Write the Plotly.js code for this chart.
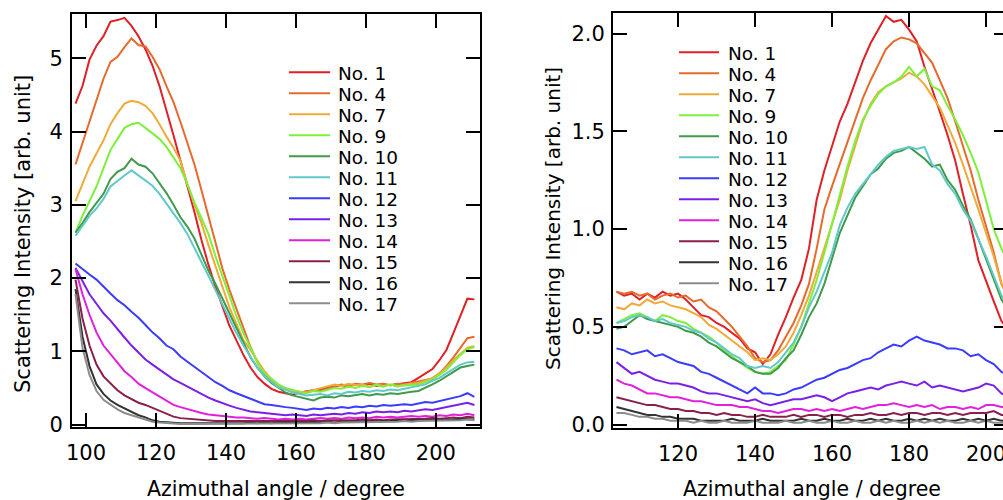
<!DOCTYPE html>
<html><head><meta charset="utf-8">
<script src="https://cdn.plot.ly/plotly-3.0.1.min.js"></script>
<style>html,body{margin:0;padding:0;overflow:hidden;background:#fff}#chart{width:1012px;height:500px}</style>
</head><body><div id="chart"></div>
<script>
// ---------- data ----------
const sampleNames = ["No. 1","No. 4","No. 7","No. 9","No. 10","No. 11","No. 12","No. 13","No. 14","No. 15","No. 16","No. 17"];
const sampleColors = ["#df2026","#e66a2c","#f0aa3a","#7ef03c","#3f9a4c","#62c8c8","#3b3bff","#7a20e6","#e21fdc","#8b1f4c","#333333","#8c8c8c"];

const angleLeft = [97,99,101,103,105,107,109,111,113,115,117,119,121,123,125,127,129,131,133,135,137,139,141,143,145,147,149,151,153,155,157,159,161,163,165,167,169,171,173,175,177,179,181,183,185,187,189,191,193,195,197,199,201,203,205,207,209,211];
const angleRight = [104,106,108,110,112,114,116,118,120,122,124,126,128,130,132,134,136,138,140,142,144,146,148,150,152,154,156,158,160,162,164,166,168,170,172,174,176,178,180,182,184,186,188,190,192,194,196,198,200,202,204,206];

const leftNo1 = [4.38,4.62,4.98,5.17,5.3,5.5,5.52,5.55,5.44,5.3,5.12,4.9,4.62,4.3,3.95,3.6,3.26,2.9,2.52,2.18,1.88,1.62,1.35,1.15,0.95,0.78,0.65,0.56,0.49,0.45,0.43,0.41,0.44,0.46,0.47,0.48,0.5,0.53,0.54,0.52,0.55,0.54,0.56,0.53,0.55,0.54,0.55,0.56,0.58,0.64,0.7,0.76,0.88,1.02,1.25,1.48,1.72,1.71];
const leftNo4 = [3.55,3.85,4.15,4.45,4.72,4.95,5.02,5.15,5.27,5.18,5.16,5.02,4.85,4.62,4.4,4.13,3.85,3.55,3.2,2.85,2.48,2.13,1.84,1.58,1.32,1.06,0.85,0.7,0.59,0.52,0.49,0.45,0.43,0.45,0.47,0.46,0.49,0.52,0.55,0.53,0.56,0.55,0.57,0.55,0.56,0.54,0.56,0.55,0.57,0.58,0.6,0.63,0.7,0.8,0.92,1.05,1.18,1.2];
const leftNo7 = [3.05,3.28,3.52,3.7,3.88,4.1,4.25,4.38,4.42,4.4,4.35,4.25,4.1,3.93,3.78,3.6,3.28,3.0,2.75,2.45,2.15,1.88,1.6,1.37,1.15,1.02,0.88,0.73,0.62,0.53,0.49,0.46,0.45,0.44,0.47,0.5,0.52,0.55,0.53,0.56,0.54,0.55,0.52,0.55,0.53,0.55,0.52,0.55,0.56,0.57,0.6,0.64,0.7,0.78,0.88,0.97,1.05,1.07];
const leftNo9 = [2.62,2.85,3.05,3.25,3.5,3.75,3.9,4.05,4.1,4.12,4.05,3.98,3.9,3.79,3.65,3.5,3.28,3.03,2.82,2.6,2.3,2.02,1.75,1.48,1.25,1.05,0.85,0.7,0.62,0.55,0.5,0.47,0.45,0.43,0.46,0.45,0.48,0.5,0.49,0.52,0.5,0.53,0.51,0.54,0.52,0.55,0.53,0.54,0.55,0.55,0.58,0.62,0.68,0.75,0.85,0.95,1.03,1.06];
const leftNo10 = [2.62,2.75,2.9,3.02,3.15,3.35,3.45,3.5,3.63,3.55,3.52,3.43,3.3,3.16,3.0,2.83,2.7,2.54,2.32,2.1,1.92,1.72,1.5,1.3,1.1,0.92,0.78,0.66,0.57,0.5,0.44,0.4,0.38,0.36,0.33,0.37,0.38,0.37,0.4,0.39,0.41,0.42,0.4,0.42,0.41,0.43,0.42,0.44,0.45,0.46,0.5,0.55,0.6,0.66,0.72,0.78,0.8,0.82];
const leftNo11 = [2.58,2.72,2.85,2.95,3.08,3.25,3.33,3.4,3.47,3.4,3.33,3.26,3.15,3.02,2.88,2.75,2.6,2.4,2.22,2.03,1.83,1.63,1.43,1.25,1.08,0.92,0.78,0.66,0.58,0.51,0.48,0.44,0.42,0.4,0.41,0.42,0.4,0.43,0.42,0.45,0.44,0.46,0.45,0.47,0.46,0.48,0.47,0.49,0.5,0.52,0.55,0.6,0.64,0.7,0.76,0.82,0.85,0.86];
const leftNo12 = [2.2,2.12,2.05,1.98,1.88,1.79,1.7,1.63,1.54,1.46,1.36,1.26,1.18,1.08,1.03,0.93,0.86,0.79,0.71,0.64,0.58,0.53,0.47,0.43,0.39,0.35,0.31,0.28,0.27,0.25,0.24,0.23,0.22,0.2,0.22,0.21,0.23,0.22,0.24,0.23,0.25,0.24,0.26,0.25,0.27,0.26,0.27,0.28,0.27,0.29,0.31,0.3,0.32,0.34,0.36,0.39,0.43,0.38];
const leftNo13 = [2.14,1.95,1.78,1.65,1.52,1.42,1.3,1.19,1.08,0.98,0.89,0.82,0.75,0.68,0.62,0.57,0.52,0.46,0.41,0.37,0.33,0.29,0.26,0.23,0.2,0.18,0.17,0.16,0.15,0.14,0.13,0.14,0.13,0.12,0.14,0.13,0.14,0.15,0.14,0.16,0.15,0.17,0.16,0.18,0.17,0.18,0.17,0.19,0.18,0.2,0.21,0.2,0.22,0.23,0.25,0.28,0.3,0.27];
const leftNo14 = [2.12,1.78,1.5,1.26,1.08,0.96,0.84,0.73,0.65,0.56,0.5,0.44,0.38,0.32,0.27,0.24,0.21,0.18,0.16,0.14,0.13,0.12,0.11,0.1,0.1,0.09,0.08,0.09,0.08,0.07,0.08,0.07,0.08,0.07,0.08,0.09,0.08,0.09,0.08,0.1,0.09,0.1,0.09,0.11,0.1,0.11,0.1,0.11,0.12,0.11,0.12,0.11,0.13,0.12,0.14,0.13,0.15,0.13];
const leftNo15 = [1.98,1.45,1.08,0.82,0.66,0.56,0.47,0.4,0.35,0.3,0.27,0.23,0.18,0.14,0.11,0.09,0.08,0.07,0.06,0.06,0.05,0.05,0.05,0.05,0.04,0.05,0.04,0.05,0.04,0.05,0.05,0.04,0.05,0.05,0.06,0.05,0.06,0.06,0.05,0.06,0.06,0.07,0.06,0.07,0.06,0.07,0.07,0.08,0.07,0.08,0.08,0.09,0.08,0.09,0.1,0.09,0.11,0.1];
const leftNo16 = [1.85,1.2,0.8,0.55,0.42,0.33,0.27,0.22,0.17,0.13,0.1,0.06,0.04,0.03,0.02,0.02,0.02,0.02,0.01,0.02,0.02,0.01,0.02,0.02,0.02,0.03,0.02,0.03,0.02,0.03,0.03,0.02,0.03,0.03,0.04,0.03,0.04,0.03,0.04,0.04,0.05,0.04,0.05,0.04,0.05,0.05,0.06,0.05,0.06,0.06,0.06,0.07,0.06,0.07,0.07,0.08,0.08,0.07];
const leftNo17 = [1.78,1.05,0.68,0.46,0.34,0.27,0.21,0.16,0.13,0.1,0.07,0.04,0.03,0.02,0.02,0.01,0.01,0.01,0.01,0.01,0.01,0.01,0.01,0.01,0.01,0.02,0.01,0.02,0.01,0.02,0.02,0.01,0.02,0.02,0.02,0.02,0.03,0.02,0.03,0.03,0.03,0.04,0.03,0.04,0.03,0.04,0.04,0.05,0.04,0.05,0.05,0.05,0.06,0.05,0.06,0.06,0.07,0.06];

const rightNo1 = [0.68,0.66,0.67,0.64,0.67,0.65,0.68,0.66,0.67,0.64,0.6,0.56,0.55,0.52,0.5,0.47,0.44,0.39,0.37,0.31,0.36,0.46,0.55,0.65,0.74,0.9,1.15,1.3,1.43,1.55,1.64,1.75,1.86,1.95,2.02,2.09,2.06,2.07,2.02,1.96,1.83,1.72,1.6,1.48,1.35,1.18,1.02,0.84,0.73,0.63,0.53,0.48];
const rightNo4 = [0.68,0.67,0.68,0.66,0.67,0.64,0.66,0.67,0.65,0.66,0.63,0.64,0.6,0.58,0.54,0.5,0.45,0.4,0.34,0.32,0.33,0.38,0.45,0.52,0.61,0.72,0.9,1.1,1.22,1.33,1.44,1.56,1.67,1.76,1.84,1.92,1.96,1.98,1.97,1.95,1.9,1.85,1.76,1.67,1.55,1.43,1.3,1.15,1.02,0.88,0.72,0.64];
const rightNo7 = [0.6,0.59,0.62,0.61,0.64,0.62,0.63,0.61,0.6,0.59,0.57,0.55,0.51,0.49,0.46,0.43,0.4,0.37,0.33,0.34,0.33,0.36,0.4,0.47,0.56,0.66,0.78,0.9,1.02,1.15,1.3,1.43,1.55,1.64,1.7,1.73,1.75,1.77,1.8,1.78,1.74,1.68,1.62,1.53,1.44,1.33,1.22,1.1,0.98,0.86,0.72,0.65];
const rightNo9 = [0.52,0.54,0.56,0.57,0.55,0.53,0.56,0.55,0.53,0.52,0.49,0.47,0.45,0.42,0.38,0.35,0.32,0.29,0.27,0.26,0.27,0.3,0.33,0.41,0.5,0.62,0.74,0.88,1.03,1.17,1.32,1.45,1.56,1.63,1.69,1.73,1.75,1.78,1.83,1.78,1.82,1.73,1.71,1.63,1.56,1.48,1.39,1.29,1.15,1.0,0.9,0.82];
const rightNo10 = [0.49,0.5,0.53,0.56,0.54,0.53,0.52,0.51,0.5,0.48,0.47,0.45,0.42,0.4,0.37,0.34,0.32,0.3,0.27,0.26,0.26,0.29,0.34,0.38,0.46,0.55,0.62,0.72,0.85,0.98,1.07,1.16,1.22,1.28,1.31,1.36,1.39,1.4,1.42,1.39,1.36,1.32,1.33,1.25,1.2,1.12,1.05,0.95,0.85,0.75,0.64,0.58];
const rightNo11 = [0.52,0.53,0.55,0.56,0.55,0.53,0.54,0.52,0.51,0.5,0.48,0.47,0.44,0.42,0.39,0.36,0.34,0.3,0.29,0.3,0.29,0.32,0.37,0.42,0.5,0.6,0.68,0.78,0.88,1.02,1.11,1.18,1.23,1.28,1.33,1.37,1.4,1.41,1.42,1.41,1.42,1.33,1.3,1.23,1.18,1.1,1.04,0.95,0.86,0.76,0.66,0.6];
const rightNo12 = [0.39,0.38,0.36,0.37,0.38,0.35,0.36,0.34,0.32,0.31,0.3,0.27,0.26,0.24,0.22,0.2,0.18,0.16,0.19,0.16,0.16,0.15,0.16,0.18,0.19,0.21,0.23,0.24,0.26,0.28,0.29,0.31,0.33,0.34,0.37,0.39,0.41,0.4,0.43,0.45,0.43,0.42,0.41,0.39,0.39,0.38,0.35,0.36,0.33,0.31,0.27,0.25];
const rightNo13 = [0.32,0.29,0.26,0.27,0.25,0.23,0.22,0.21,0.21,0.2,0.19,0.17,0.16,0.16,0.15,0.14,0.13,0.12,0.13,0.11,0.1,0.11,0.12,0.13,0.13,0.14,0.15,0.14,0.12,0.14,0.16,0.17,0.18,0.19,0.18,0.2,0.21,0.22,0.21,0.2,0.22,0.19,0.2,0.19,0.18,0.17,0.18,0.19,0.21,0.2,0.16,0.14];
const rightNo14 = [0.23,0.21,0.2,0.18,0.16,0.16,0.15,0.14,0.14,0.13,0.12,0.12,0.11,0.1,0.1,0.1,0.09,0.09,0.08,0.07,0.07,0.06,0.07,0.08,0.08,0.07,0.08,0.07,0.08,0.07,0.08,0.09,0.08,0.09,0.1,0.1,0.11,0.1,0.09,0.1,0.09,0.1,0.08,0.09,0.09,0.08,0.09,0.08,0.1,0.1,0.09,0.09];
const rightNo15 = [0.14,0.13,0.12,0.11,0.1,0.1,0.09,0.08,0.08,0.07,0.07,0.06,0.06,0.05,0.06,0.05,0.05,0.04,0.04,0.05,0.04,0.04,0.04,0.05,0.04,0.05,0.05,0.04,0.05,0.05,0.04,0.05,0.05,0.06,0.05,0.05,0.06,0.05,0.06,0.06,0.05,0.06,0.06,0.05,0.06,0.05,0.06,0.06,0.06,0.07,0.05,0.05];
const rightNo16 = [0.09,0.08,0.07,0.06,0.05,0.05,0.04,0.04,0.03,0.03,0.03,0.02,0.02,0.02,0.02,0.03,0.02,0.02,0.02,0.03,0.02,0.02,0.02,0.02,0.03,0.02,0.02,0.03,0.02,0.02,0.03,0.02,0.02,0.03,0.02,0.03,0.02,0.02,0.03,0.02,0.03,0.02,0.03,0.02,0.02,0.03,0.02,0.03,0.02,0.03,0.02,0.02];
const rightNo17 = [0.06,0.06,0.05,0.04,0.04,0.03,0.03,0.02,0.02,0.02,0.01,0.02,0.01,0.01,0.02,0.01,0.01,0.01,0.02,0.01,0.01,0.01,0.02,0.01,0.01,0.02,0.01,0.01,0.02,0.01,0.01,0.02,0.01,0.01,0.02,0.01,0.02,0.01,0.01,0.02,0.01,0.02,0.01,0.02,0.01,0.01,0.02,0.01,0.02,0.01,0.01,0.01];

const leftSeries = [leftNo1,leftNo4,leftNo7,leftNo9,leftNo10,leftNo11,leftNo12,leftNo13,leftNo14,leftNo15,leftNo16,leftNo17];
const rightSeries = [rightNo1,rightNo4,rightNo7,rightNo9,rightNo10,rightNo11,rightNo12,rightNo13,rightNo14,rightNo15,rightNo16,rightNo17];

const xTitle = "Azimuthal angle / degree";
const yTitle = "Scattering Intensity [arb. unit]";

// ---------- figure ----------
const W = 1012, H = 500;
const FONT = "DejaVu Sans";
const traces = [];
sampleNames.forEach((n, i) => {
  traces.push({x: angleLeft, y: leftSeries[i], xaxis: 'x', yaxis: 'y', type: 'scatter', mode: 'lines',
    name: n, showlegend: false, line: {color: sampleColors[i], width: 2}});
});
sampleNames.forEach((n, i) => {
  traces.push({x: angleRight, y: rightSeries[i], xaxis: 'x2', yaxis: 'y2', type: 'scatter', mode: 'lines',
    name: n, showlegend: false, line: {color: sampleColors[i], width: 2}});
});

function ax(extra) {
  return Object.assign({
    showline: true, linecolor: '#000', linewidth: 2, mirror: 'allticks',
    ticks: 'inside', ticklen: 14, tickwidth: 2, tickcolor: '#000',
    showgrid: false, zeroline: false, ticklabelstandoff: 6,
    tickfont: {family: FONT, size: 21, color: '#000'}
  }, extra);
}

const px = v => v / W, py = v => 1 - v / H;
const shapes = [], annotations = [];
function legendBlock(lineX0, lineX1, textX, rowY0) {
  sampleNames.forEach((n, k) => {
    const y = rowY0 + k * 21;
    shapes.push({type: 'line', xref: 'paper', yref: 'paper', x0: px(lineX0), x1: px(lineX1), y0: py(y), y1: py(y),
      line: {color: sampleColors[k], width: 2}});
    annotations.push({xref: 'paper', yref: 'paper', x: px(textX), y: py(y + 1), xanchor: 'left', yanchor: 'middle',
      showarrow: false, text: n, font: {family: FONT, size: 18.5, color: '#000'}, borderpad: 0});
  });
}
legendBlock(289, 330, 337, 72.3);
legendBlock(679, 719, 727, 52.3);

annotations.push({xref: 'paper', yref: 'paper', x: px(275.5), y: py(489), xanchor: 'center', yanchor: 'middle',
  showarrow: false, text: xTitle, font: {family: FONT, size: 20.5, color: '#000'}});
annotations.push({xref: 'paper', yref: 'paper', x: px(811.5), y: py(489), xanchor: 'center', yanchor: 'middle',
  showarrow: false, text: xTitle, font: {family: FONT, size: 20.5, color: '#000'}});
annotations.push({xref: 'paper', yref: 'paper', x: px(23), y: py(234), xanchor: 'center', yanchor: 'middle', textangle: -90,
  showarrow: false, text: yTitle, font: {family: FONT, size: 21, color: '#000'}});
annotations.push({xref: 'paper', yref: 'paper', x: px(553), y: py(219), xanchor: 'center', yanchor: 'middle', textangle: -90,
  showarrow: false, text: yTitle, font: {family: FONT, size: 20, color: '#000'}});

const layout = {
  width: W, height: H, margin: {l: 0, r: 0, t: 0, b: 0},
  paper_bgcolor: '#fff', plot_bgcolor: '#fff',
  font: {family: FONT, color: '#000'},
  showlegend: false,
  xaxis: ax({domain: [px(72), px(480)], range: [96, 212.6], tick0: 100, dtick: 20, anchor: 'y'}),
  yaxis: ax({domain: [py(427), py(14)], range: [-0.031, 5.603], tick0: 0, dtick: 1, anchor: 'x', ticklabelstandoff: 3}),
  xaxis2: ax({domain: [px(613), px(1008)], range: [103.1, 205.7], tick0: 0, dtick: 20, anchor: 'y2'}),
  yaxis2: ax({domain: [py(428), py(13)], range: [-0.017, 2.105], tick0: 0, dtick: 0.5, tickformat: '.1f', anchor: 'x2', ticklabelstandoff: 2}),
  shapes: shapes,
  annotations: annotations
};

Plotly.newPlot('chart', traces, layout, {displayModeBar: false, staticPlot: true});
</script>
</body></html>
